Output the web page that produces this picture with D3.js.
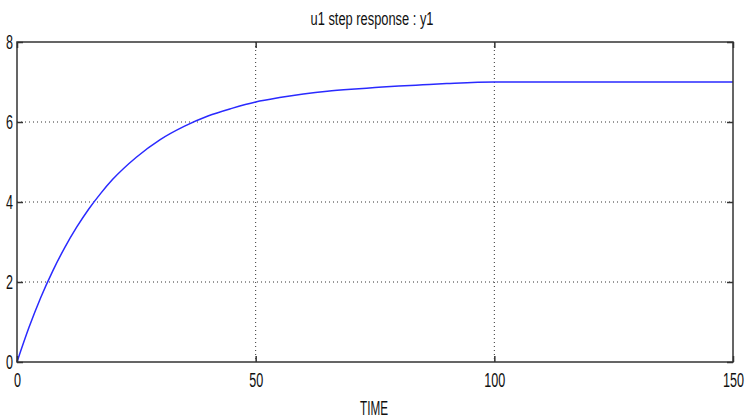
<!DOCTYPE html>
<html>
<head>
<meta charset="utf-8">
<script src="https://cdn.jsdelivr.net/npm/d3@7"></script>
<style>
  body { margin: 0; background: #fff; }
  text { font-family: "Liberation Sans", Arial, sans-serif; fill: #111; }
</style>
</head>
<body>
<svg id="chart"></svg>
<script>
// values
let times = [0, 2.5, 5, 7.5, 10, 12.5, 15, 17.5, 20, 25, 30, 35, 40, 45, 50, 55, 60, 65, 70, 75, 80, 85, 90, 100, 120, 135, 150];
let outputs = [0, 0.86, 1.62, 2.28, 2.86, 3.37, 3.82, 4.21, 4.56, 5.12, 5.56, 5.89, 6.15, 6.34, 6.50, 6.61, 6.70, 6.77, 6.82, 6.86, 6.90, 6.93, 6.96, 7.0, 7.0, 7.0, 7.0];
let xTicks = [0, 50, 100, 150];
let yTicks = [0, 2, 4, 6, 8];

let width = 745, height = 419;
let leftMargin = 17, rightEdge = 733, topEdge = 42, bottomEdge = 362;
let digitWidth = 7;

let svg = d3.select('#chart')
	.attr('width', width)
	.attr('height', height);

let xScale = d3.scaleLinear().domain([0, 150]).range([leftMargin, rightEdge]);
let yScale = d3.scaleLinear().domain([0, 8]).range([bottomEdge, topEdge]);

// dotted grid
svg.append('g')
	.selectAll('line')
	.data(xTicks.filter(d => d > 0 && d < 150))
	.enter()
	.append('line')
	.attr('x1', d => xScale(d)).attr('x2', d => xScale(d))
	.attr('y1', topEdge).attr('y2', bottomEdge)
	.attr('stroke', '#333')
	.attr('stroke-width', 1)
	.attr('stroke-dasharray', '1,3');

svg.append('g')
	.selectAll('line')
	.data(yTicks.filter(d => d > 0 && d < 8))
	.enter()
	.append('line')
	.attr('y1', d => yScale(d)).attr('y2', d => yScale(d))
	.attr('x1', leftMargin).attr('x2', rightEdge)
	.attr('stroke', '#333')
	.attr('stroke-width', 1)
	.attr('stroke-dasharray', '1,3');

// curve
let points = times.map((t, i) => ({t: t, y: outputs[i]}));
let line = d3.line()
	.x(d => xScale(d.t))
	.y(d => yScale(d.y))
	.curve(d3.curveMonotoneX);

svg.append('path')
	.datum(points)
	.attr('d', line)
	.attr('fill', 'none')
	.attr('stroke', '#2a2aff')
	.attr('stroke-width', 1.5);

// axes, ticks inward on all four sides
let tickLen = 6;
let xBottom = d3.axisBottom(xScale).tickValues(xTicks).tickSize(-tickLen).tickPadding(11);
let xTop = d3.axisTop(xScale).tickValues(xTicks).tickSize(-tickLen).tickFormat('');
let yLeft = d3.axisLeft(yScale).tickValues(yTicks).tickSize(-tickLen).tickPadding(4);
let yRight = d3.axisRight(yScale).tickValues(yTicks).tickSize(-tickLen).tickFormat('');

// the original uses a tall, very narrow font: squeeze glyphs to a fixed width
function styleAxis(g) {
	g.select('.domain').remove();
	g.selectAll('.tick line').attr('stroke', '#333').attr('stroke-width', 1.5);
	g.selectAll('.tick text')
		.style('font-size', '20px')
		.attr('fill', '#111')
		.attr('textLength', d => String(d).length * digitWidth)
		.attr('lengthAdjust', 'spacingAndGlyphs');
}

svg.append('g').attr('transform', `translate(0,${bottomEdge})`).call(xBottom).call(styleAxis);
svg.append('g').attr('transform', `translate(0,${topEdge})`).call(xTop).call(styleAxis);
svg.append('g').attr('transform', `translate(${leftMargin},0)`).call(yLeft).call(styleAxis);
svg.append('g').attr('transform', `translate(${rightEdge},0)`).call(yRight).call(styleAxis);

// box
svg.append('rect')
	.attr('x', leftMargin).attr('y', topEdge)
	.attr('width', rightEdge - leftMargin).attr('height', bottomEdge - topEdge)
	.attr('fill', 'none')
	.attr('stroke', '#333')
	.attr('stroke-width', 1.5);

// LABELS
svg.append('text')
	.attr('x', 372)
	.attr('y', 25)
	.style('text-anchor', 'middle')
	.style('font-size', '18px')
	.attr('textLength', 123)
	.attr('lengthAdjust', 'spacingAndGlyphs')
	.text('u1 step response : y1');

svg.append('text')
	.attr('x', 374)
	.attr('y', 415)
	.style('text-anchor', 'middle')
	.style('font-size', '20px')
	.attr('textLength', 28)
	.attr('lengthAdjust', 'spacingAndGlyphs')
	.text('TIME');
</script>
</body>
</html>
